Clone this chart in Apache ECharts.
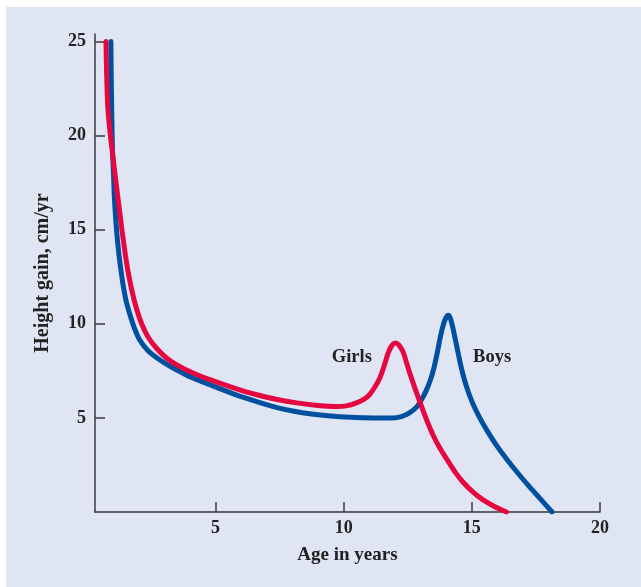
<!DOCTYPE html>
<html>
<head>
<meta charset="utf-8">
<script src="https://cdn.jsdelivr.net/npm/echarts@6/dist/echarts.min.js"></script>
<style>
  html, body { margin: 0; padding: 0; background: #ffffff; }
  #chart { position: absolute; left: 6px; top: 7px; width: 635px; height: 580px; background: #dfe5f2; }
</style>
</head>
<body>
<div id="chart"></div>
<script>
// Age (years), height gain (cm/yr)
const boys = [
  [0.92, 25.0], [0.93, 23.5], [0.95, 21.5], [0.97, 20.0], [0.99, 19.0],
  [1.02, 18.0], [1.06, 16.6], [1.14, 15.0], [1.24, 13.6], [1.38, 12.2],
  [1.5, 11.3], [1.65, 10.55], [1.83, 9.8], [2.04, 9.15], [2.35, 8.6],
  [2.71, 8.2], [3.1, 7.85], [3.49, 7.55], [4.1, 7.13], [4.78, 6.76],
  [5.7, 6.28], [6.61, 5.87], [7.4, 5.55], [8.17, 5.33], [9.0, 5.17],
  [9.73, 5.07], [10.5, 5.02], [11.2, 5.0], [11.9, 5.0], [12.25, 5.07],
  [12.55, 5.25], [12.86, 5.6], [13.05, 6.0], [13.22, 6.45], [13.38, 7.0],
  [13.52, 7.65], [13.65, 8.45], [13.78, 9.35], [13.9, 10.0], [14.0, 10.35],
  [14.08, 10.45], [14.16, 10.3], [14.25, 9.85], [14.42, 8.75], [14.55, 7.9],
  [14.7, 7.08], [14.87, 6.35], [15.05, 5.73], [15.3, 5.03], [15.6, 4.31],
  [15.95, 3.57], [16.37, 2.79], [16.8, 2.06], [17.27, 1.31], [17.7, 0.66],
  [18.13, 0.0]
];
const girls = [
  [0.73, 25.0], [0.75, 23.5], [0.8, 21.5], [0.9, 20.0], [0.97, 19.2],
  [1.05, 18.3], [1.14, 17.3], [1.24, 16.2], [1.35, 15.0], [1.47, 13.8],
  [1.6, 12.7], [1.75, 11.7], [1.92, 10.8], [2.12, 10.0], [2.37, 9.3],
  [2.7, 8.7], [3.1, 8.17], [3.49, 7.82], [4.1, 7.4], [4.78, 7.03],
  [5.7, 6.6], [6.61, 6.23], [7.4, 5.98], [8.17, 5.8], [9.0, 5.66],
  [9.73, 5.6], [10.1, 5.64], [10.5, 5.8], [10.8, 6.0], [11.0, 6.22],
  [11.2, 6.6], [11.42, 7.15], [11.6, 7.85], [11.75, 8.5], [11.9, 8.88],
  [12.02, 8.98], [12.15, 8.88], [12.32, 8.5], [12.45, 7.95], [12.6, 7.3],
  [12.8, 6.5], [13.0, 5.75], [13.25, 4.85], [13.5, 4.05], [13.75, 3.4],
  [14.04, 2.77], [14.35, 2.12], [14.66, 1.58], [15.05, 1.05], [15.44, 0.64],
  [15.9, 0.28], [16.35, 0.0]
];
const xTicks = [5, 10, 15, 20];
const yTicks = [5, 10, 15, 20, 25];
const girlsLabel = { name: 'Girls', coord: [10.32, 8.24] };
const boysLabel = { name: 'Boys', coord: [15.79, 8.24] };

const serif = '"Liberation Serif", "DejaVu Serif", serif';
const axisColor = '#3a3a3a';
const chart = echarts.init(document.getElementById('chart'), null, { renderer: 'canvas' });

function labelPoint(p) {
  return {
    data: [{ coord: p.coord, value: p.name }],
    symbol: 'circle', symbolSize: 0, silent: true, animation: false,
    label: { show: true, position: 'inside', formatter: p.name,
      fontFamily: serif, fontWeight: 'bold', fontSize: 18.5, color: '#222' }
  };
}

chart.setOption({
  animation: false,
  backgroundColor: '#dfe5f2',
  grid: { left: 89, right: 41, top: 27, bottom: 75, outerBoundsMode: 'none' },
  xAxis: {
    type: 'value', min: 0.3, max: 20,
    name: 'Age in years', nameLocation: 'middle', nameGap: 34,
    nameTextStyle: { fontFamily: serif, fontWeight: 'bold', fontSize: 19, color: '#222' },
    axisLine: { show: true, onZero: false, lineStyle: { color: axisColor, width: 1.5 } },
    axisTick: { show: true, inside: true, length: 10, customValues: xTicks, lineStyle: { color: axisColor, width: 1.5 } },
    axisLabel: { customValues: xTicks, margin: 7, fontFamily: serif, fontWeight: 'bold', fontSize: 18, color: '#222' },
    splitLine: { show: false }
  },
  yAxis: {
    type: 'value', min: 0, max: 25.4,
    name: 'Height gain, cm/yr', nameLocation: 'middle', nameGap: 42, nameRotate: 90,
    nameTextStyle: { fontFamily: serif, fontWeight: 'bold', fontSize: 20, color: '#222' },
    axisLine: { show: true, onZero: false, lineStyle: { color: axisColor, width: 1.5 } },
    axisTick: { show: true, inside: true, length: 10, customValues: yTicks, lineStyle: { color: axisColor, width: 1.5 } },
    axisLabel: { customValues: yTicks, margin: 9, fontFamily: serif, fontWeight: 'bold', fontSize: 18, color: '#222' },
    splitLine: { show: false }
  },
  series: [
    {
      name: 'Boys', type: 'line', data: boys, showSymbol: false, symbol: 'none',
      smooth: 0.25,
      lineStyle: { color: '#0050a0', width: 5, cap: 'round', join: 'round' },
      markPoint: labelPoint(boysLabel), z: 2
    },
    {
      name: 'Girls', type: 'line', data: girls, showSymbol: false, symbol: 'none',
      smooth: 0.25,
      lineStyle: { color: '#e5073f', width: 5, cap: 'round', join: 'round' },
      markPoint: labelPoint(girlsLabel), z: 3
    }
  ]
});
</script>
</body>
</html>
